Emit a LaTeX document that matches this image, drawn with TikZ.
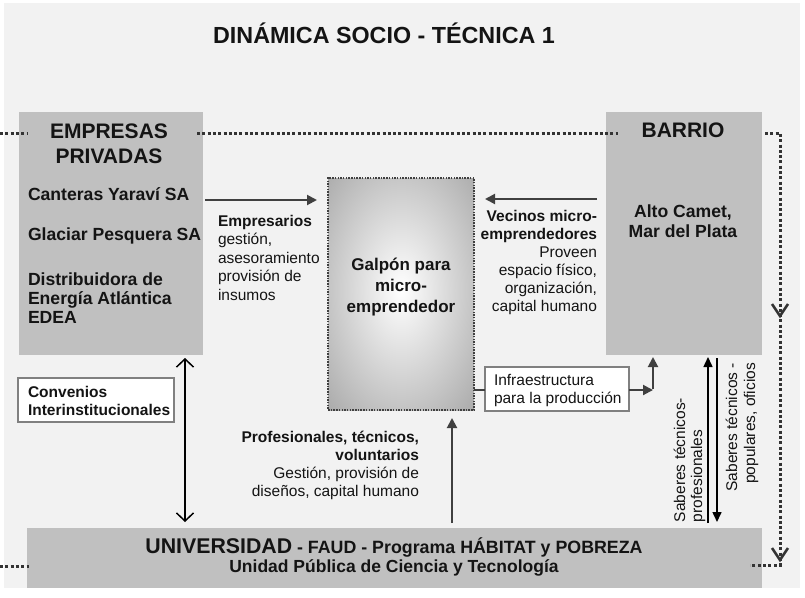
\documentclass[tikz,border=0pt]{standalone}
\usepackage{fontspec}
\setmainfont{Liberation Sans}
\usetikzlibrary{arrows.meta}
\definecolor{bgc}{HTML}{F2F2F2}
\definecolor{boxc}{HTML}{C0C0C0}
\definecolor{txtc}{HTML}{141414}
\definecolor{arrc}{HTML}{404040}
\definecolor{dotc}{HTML}{333333}
\definecolor{framec}{HTML}{808080}
\definecolor{shadec}{HTML}{727272}
\newcommand\fs[2]{\fontsize{#1}{#2}\selectfont}
\begin{document}
\begin{tikzpicture}[x=1pt,y=-1pt,
  boxg/.style={fill=boxc, draw=none, inner sep=0, outer sep=0, anchor=north west},
  frm/.style={fill=white, draw=framec, line width=1.5pt, inner sep=0, outer sep=0, anchor=north west},
  txt/.style={inner sep=0, outer sep=0, text=txtc},
  darr/.style={draw=arrc, line width=2pt, -{Triangle[length=10pt,width=10pt]}, arrc},
  barr/.style={draw=black, line width=1.5pt, -{Triangle[length=10pt,width=9pt]}},
  barb/.style={draw=black, line width=1.5pt, {Straight Barb[length=8pt,width=17pt]}-{Straight Barb[length=8pt,width=17pt]}},
  gline/.style={draw=arrc, line width=1.6pt},
  dotl/.style={draw=dotc, line width=3pt, dash pattern=on 3pt off 2.3pt},
  chev/.style={draw=dotc, line width=2.6pt}
]
\useasboundingbox (0,0) rectangle (805,597);
\fill[white] (0,0) rectangle (805,597);
\fill[bgc] (4,3) rectangle (800,588);

% title
\node[txt, anchor=base, font=\bfseries\fs{23.3}{27}] (title) at (384,43) {DINÁMICA SOCIO - TÉCNICA 1};

% boxes
\node[boxg, minimum width=184pt, minimum height=243pt] (emp) at (19,112) {};
\node[boxg, minimum width=156pt, minimum height=243pt] (bar) at (606,112) {};
\node[boxg, minimum width=735pt, minimum height=60pt] (uni) at (27,528) {};
\begin{scope}
  \clip (328,178) rectangle (474,410);
  \shade[inner color=white, outer color=shadec] (401,290) ellipse (175 and 280);
\end{scope}
\node[draw=arrc, line width=1.5pt, dash pattern=on 1.5pt off 1.2pt, inner sep=0, outer sep=0,
      minimum width=146pt, minimum height=232pt, anchor=north west] (gal) at (328,178) {};
\node[frm, minimum width=144pt, minimum height=44pt] (infra) at (485,367) {};
\node[frm, minimum width=156pt, minimum height=44pt] (conv) at (18,378) {};

% dotted loop
\coordinate (d1) at (0,133);
\coordinate (d2) at (27,133);
\coordinate (d3) at (197,133);
\coordinate (d4) at (618,133);
\coordinate (d5) at (765,133);
\coordinate (d6) at (780,133);
\coordinate (d7) at (780,565);
\coordinate (d8) at (750,565);
\coordinate (d9) at (0,566);
\coordinate (d10) at (29,566);
\draw[dotl] (d1) -- (d2);
\draw[dotl] (d3) -- (d4);
\draw[dotl] (d5) -- (d6) -- (d7) -- (d8);
\draw[dotl] (d9) -- (d10);
\draw[chev] (772,304) -- (780,316) -- (788,304);
\draw[chev] (772,548) -- (780,560) -- (788,548);

% box texts (base anchor = baseline of the last line)
\node[txt, anchor=base, align=center, font=\bfseries\fs{21}{25}] (empT) at (109,163) {EMPRESAS\\PRIVADAS};
\node[txt, anchor=base west, font=\bfseries\fs{17.6}{19.5}] (emp1) at (28,200) {Canteras Yaraví SA};
\node[txt, anchor=base west, font=\bfseries\fs{17.6}{19.5}] (emp2) at (28,240) {Glaciar Pesquera SA};
\node[txt, anchor=base west, align=left, font=\bfseries\fs{17.6}{19}] (emp3) at (28,323) {Distribuidora de\\Energía Atlántica\\EDEA};
\node[txt, anchor=base, font=\bfseries\fs{21}{25}] (barT) at (683,137) {BARRIO};
\node[txt, anchor=base, align=center, font=\bfseries\fs{17.6}{20}] (bar1) at (683,237) {Alto Camet,\\Mar del Plata};
\node[txt, anchor=base, align=center, font=\bfseries\fs{17}{21}] (galT) at (401,312) {Galpón para\\micro-\\emprendedor};
\node[txt, anchor=base west, align=left, font=\fs{15.5}{18}] (infraT) at (494,403) {Infraestructura\\para la producción};
\node[txt, anchor=base west, align=left, font=\bfseries\fs{15.5}{18}] (convT) at (28,415) {Convenios\\Interinstitucionales};
\node[txt, anchor=base, font=\bfseries] (uniT1) at (394,553) {{\fs{21.3}{25}UNIVERSIDAD}{\fs{17.8}{21} - FAUD - Programa HÁBITAT y POBREZA}};
\node[txt, anchor=base, font=\bfseries\fs{17.5}{21}] (uniT2) at (394,572) {Unidad Pública de Ciencia y Tecnología};

% labels
\node[txt, anchor=base west, align=left, font=\fs{15.5}{18.5}] (lemp) at (218,300) {\textbf{Empresarios}\\gestión,\\asesoramiento\\provisión de\\insumos};
\node[txt, anchor=base east, align=right, font=\fs{15.5}{18}] (lvec) at (597,311) {\textbf{Vecinos micro-}\\\textbf{emprendedores}\\Proveen\\espacio físico,\\organización,\\capital humano};
\node[txt, anchor=base east, align=right, font=\fs{15.5}{18}] (lpro) at (419,496) {\textbf{Profesionales, técnicos,}\\\textbf{voluntarios}\\Gestión, provisión de\\diseños, capital humano};
\node[txt, rotate=90, anchor=base west, align=left, font=\fs{15.5}{17}] (lsab1) at (702,522) {Saberes técnicos-\\profesionales};
\node[txt, rotate=90, anchor=base east, align=right, font=\fs{15.5}{18}] (lsab2) at (755,363) {Saberes técnicos -\\populares, oficios};

% connectors
\coordinate (ya) at (0,200);
\draw[darr, shorten <=2pt, shorten >=11pt] (emp.east |- ya) -- (gal.west |- ya);
\coordinate (yb) at (0,199);
\draw[darr, shorten <=9pt, shorten >=11pt] (bar.west |- yb) -- (gal.east |- yb);
\coordinate (yc) at (0,390);
\draw[gline] (gal.east |- yc) -- (infra.west |- yc);
\coordinate (corner) at (653,390);
\draw[darr] (infra.east |- yc) -- (corner);
\draw[darr, shorten >=2pt] ([yshift=1pt]corner) -- (corner |- bar.south);
\coordinate (xu) at (452,0);
\draw[darr, shorten <=5pt, shorten >=8pt] (xu |- uni.north) -- (xu |- gal.south);
\coordinate (xc) at (185,0);
\draw[barb, shorten <=3pt, shorten >=6pt] (xc |- emp.south) -- (xc |- uni.north);
\coordinate (xs1) at (708,0);
\draw[barr, shorten <=5pt, shorten >=2pt] (xs1 |- uni.north) -- (xs1 |- bar.south);
\coordinate (xs2) at (717,0);
\draw[barr, shorten <=3pt, shorten >=6pt] (xs2 |- bar.south) -- (xs2 |- uni.north);
\end{tikzpicture}
\end{document}
